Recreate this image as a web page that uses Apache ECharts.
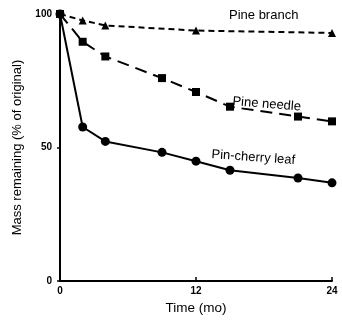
<!DOCTYPE html>
<html>
<head>
<meta charset="utf-8">
<script src="https://cdn.jsdelivr.net/npm/echarts@6/dist/echarts.min.js"></script>
<style>
  html, body { margin: 0; padding: 0; background: #fff; }
  #chart { width: 342px; height: 320px; }
</style>
</head>
<body>
<div id="chart"></div>
<script>
// months sampled
var months = [0, 2, 4, 9, 12, 15, 21, 24];
var branchMonths = [0, 2, 4, 12, 24];

// mass remaining (% of original)
var cherryLeaf = [100, 57.7, 52.3, 48.2, 44.9, 41.5, 38.6, 36.8];
var pineNeedle = [100, 89.6, 84.1, 76.0, 70.8, 65.3, 61.6, 59.8];
var pineBranch = [100, 97.6, 95.7, 93.8, 92.9];

function pairs(xs, ys) {
  return xs.map(function (x, i) { return [x, ys[i]]; });
}

var font = 'Liberation Sans, Arial, sans-serif';

var chart = echarts.init(document.getElementById('chart'));
chart.setOption({
  animation: false,
  grid: { left: 60, right: 10, top: 14, bottom: 34 },
  xAxis: {
    type: 'value', min: 0, max: 24, interval: 12,
    name: 'Time (mo)', nameLocation: 'middle', nameGap: 19,
    nameTextStyle: { color: '#000', fontFamily: font, fontSize: 13.5 },
    axisLine: { lineStyle: { color: '#000', width: 2 } },
    axisTick: { inside: true, length: 4, lineStyle: { color: '#000', width: 1.5 } },
    axisLabel: { color: '#000', fontFamily: font, fontSize: 10, fontWeight: 'bold', margin: 5 },
    splitLine: { show: false }
  },
  yAxis: {
    type: 'value', min: 0, max: 100, interval: 50,
    name: 'Mass remaining (% of original)', nameLocation: 'middle', nameGap: 36,
    nameTextStyle: { color: '#000', fontFamily: font, fontSize: 13 },
    axisLine: { show: true, lineStyle: { color: '#000', width: 2 } },
    axisTick: { show: true, length: 3, lineStyle: { color: '#000', width: 1.5 } },
    axisLabel: { color: '#000', fontFamily: font, fontSize: 10, fontWeight: 'bold', margin: 8 },
    splitLine: { show: false }
  },
  series: [
    {
      name: 'Pin-cherry leaf', type: 'line', data: pairs(months, cherryLeaf),
      symbol: 'circle', symbolSize: 9,
      lineStyle: { color: '#000', width: 2 },
      itemStyle: { color: '#000' }
    },
    {
      name: 'Pine needle', type: 'line', data: pairs(months, pineNeedle),
      symbol: 'rect', symbolSize: 8,
      lineStyle: { color: '#000', width: 2, type: [12, 7] },
      itemStyle: { color: '#000' }
    },
    {
      name: 'Pine branch', type: 'line', data: pairs(branchMonths, pineBranch),
      symbol: 'triangle', symbolSize: 8,
      lineStyle: { color: '#000', width: 2, type: [6, 4] },
      itemStyle: { color: '#000' }
    }
  ],
  graphic: [
    { type: 'text', left: 229, top: 9,
      style: { text: 'Pine branch', font: '13px ' + font, fill: '#000' } },
    { type: 'text', x: 233, y: 95, rotation: -0.08,
      style: { text: 'Pine needle', font: '13px ' + font, fill: '#000' } },
    { type: 'text', x: 212, y: 148, rotation: -0.07,
      style: { text: 'Pin-cherry leaf', font: '13px ' + font, fill: '#000' } }
  ]
});
</script>
</body>
</html>
